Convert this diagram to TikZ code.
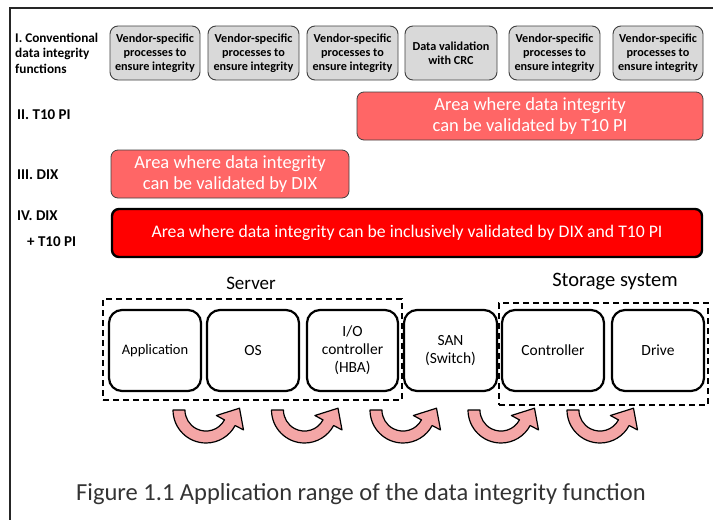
\documentclass[tikz,border=0pt]{standalone}
\usepackage{fontspec}
\setmainfont{Carlito}
\usetikzlibrary{calc}
\definecolor{grayfill}{HTML}{D9D9D9}
\definecolor{grayline}{HTML}{404040}
\definecolor{lightred}{HTML}{FF6666}
\definecolor{fullred}{HTML}{FF0000}
\definecolor{pinkarrow}{HTML}{F4A6A6}
\definecolor{captiongray}{HTML}{333333}
\tikzset{
  rowlabel/.style={anchor=west, align=left, inner sep=0pt, font=\bfseries\fontsize{15}{16}\selectfont},
  graybox/.style={draw=grayline, line width=0.9pt, fill=grayfill, rounded corners=8pt,
    minimum height=54pt, inner sep=0pt, align=center, font=\bfseries\fontsize{12.2}{14}\selectfont},
  areabox/.style={draw=grayline, line width=0.8pt, fill=lightred, rounded corners=7pt,
    minimum height=48pt, inner sep=0pt, align=center, text=white, font=\fontsize{18.5}{20.5}\selectfont},
  bigareabox/.style={draw=black, line width=2.4pt, fill=fullred, rounded corners=7pt,
    minimum height=48pt, inner sep=0pt, align=center, text=white, font=\fontsize{17.7}{20}\selectfont},
  compbox/.style={draw=black, line width=2.2pt, fill=white, rounded corners=13pt,
    minimum height=81pt, inner sep=0pt, align=center, font=\fontsize{15.5}{18}\selectfont},
  groupbox/.style={draw=black, line width=1.4pt, dash pattern=on 6pt off 4pt, inner sep=0pt},
  grouptitle/.style={inner sep=0pt, font=\fontsize{19}{21}\selectfont},
  frameline/.style={draw=black!85, line width=1.1pt},
  flowarrow/.style={draw=black, line width=1.2pt, fill=pinkarrow, line join=round},
  pics/uarrow/.style={code={
    \draw[flowarrow] (-33,0) arc[start angle=180, end angle=28, radius=33]
      -- (37.5,19.9) -- (33.5,-1.8) -- (10.4,5.5) -- (18.5,9.9)
      arc[start angle=28, end angle=180, radius=21] -- cycle;
  }}
}
\begin{document}
\begin{tikzpicture}[x=1pt,y=-1pt]
\useasboundingbox (0,0) rectangle (713,520);
\fill[white] (0,0) rectangle (713,520);
% frame
\draw[frameline] (10,520) -- (10,8) -- (713,8);

% row labels
\node[rowlabel, font=\bfseries\fontsize{13.3}{15.5}\selectfont] (l1) at (15,53) {I. Conventional\\data integrity\\functions};
\node[rowlabel] (l2) at (17,115) {II. T10 PI};
\node[rowlabel] (l3) at (17,175) {III. DIX};
\node[rowlabel, font=\bfseries\fontsize{15}{26}\selectfont] (l4) at (17,229) {IV. DIX\\\hspace*{10pt}+ T10 PI};

% row I boxes
\node[graybox, minimum width=90pt] (g1) at (155,53) {Vendor-specific\\processes to\\ensure integrity};
\node[graybox, minimum width=91pt] (g2) at (253.5,53) {Vendor-specific\\processes to\\ensure integrity};
\node[graybox, minimum width=91pt] (g3) at (352.5,53) {Vendor-specific\\processes to\\ensure integrity};
\node[graybox, minimum width=92pt] (g4) at (451,53) {Data validation\\with CRC};
\node[graybox, minimum width=91pt] (g5) at (554.5,53) {Vendor-specific\\processes to\\ensure integrity};
\node[graybox, minimum width=90pt] (g6) at (658,53) {Vendor-specific\\processes to\\ensure integrity};

% rows II-IV
\node[areabox, minimum width=346pt] (t10) at (530,116) {Area where data integrity\\can be validated by T10 PI};
\node[areabox, minimum width=238pt] (dix) at (230,174) {Area where data integrity\\can be validated by DIX};
\node[bigareabox, minimum width=590pt] (both) at (407,233) {Area where data integrity can be inclusively validated by DIX and T10 PI};

% groups
\node[groupbox, minimum width=299pt, minimum height=101pt] (server) at (252.5,349.5) {};
\node[groupbox, minimum width=209pt, minimum height=102pt] (storage) at (603.5,354) {};
\node[grouptitle] (servert) at (251,283) {Server};
\node[grouptitle, font=\fontsize{20.5}{22}\selectfont] (storaget) at (615,282) {Storage system};

% components
\node[compbox, minimum width=92pt] (app) at (155,350.5) {\fontsize{14.5}{17}\selectfont Application};
\node[compbox, minimum width=92pt] (os) at (253,350.5) {OS};
\node[compbox, minimum width=91pt] (hba) at (352.5,350.5) {I/O\\controller\\(HBA)};
\node[compbox, minimum width=93pt] (san) at (450.5,350.5) {SAN\\(Switch)};
\node[compbox, minimum width=102pt] (ctl) at (553,350.5) {Controller};
\node[compbox, minimum width=92pt] (drv) at (658,350.5) {Drive};

% flow arrows
\pic at (206,410) {uarrow};
\pic at (304.5,410) {uarrow};
\pic at (403,410) {uarrow};
\pic at (501,410) {uarrow};
\pic at (600,410) {uarrow};

% caption
\node[inner sep=0pt, text=captiongray, font=\fontsize{24.5}{28}\selectfont] (cap) at (361,494) {Figure 1.1 Application range of the data integrity function};
\end{tikzpicture}
\end{document}
